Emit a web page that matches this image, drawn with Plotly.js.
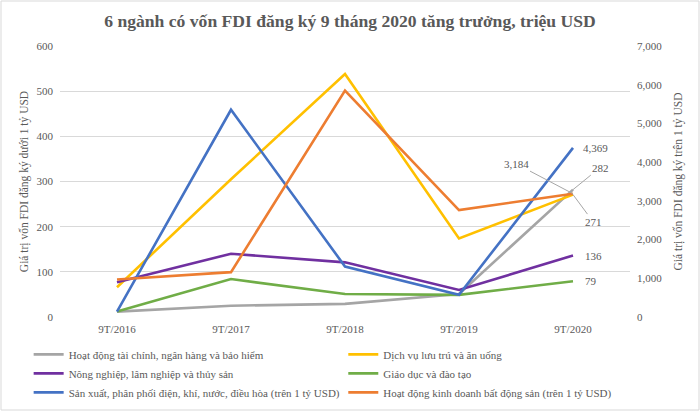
<!DOCTYPE html>
<html>
<head>
<meta charset="utf-8">
<script src="https://cdn.plot.ly/plotly-3.0.1.min.js"></script>
<style>
  html, body { margin: 0; padding: 0; background: #fff; }
  #chart { width: 700px; height: 411px; }
</style>
</head>
<body>
<div id="chart"></div>
<script>
const years = ['9T/2016', '9T/2017', '9T/2018', '9T/2019', '9T/2020'];

// dưới 1 tỷ USD (trục trái)
const taiChinh = [12, 25, 29, 51, 282];
const luuTru = [66, 305, 538, 174, 271];
const nongNghiep = [77, 140, 121, 60, 136];
const giaoDuc = [12, 84, 51, 49, 79];

// trên 1 tỷ USD (trục phải)
const sanXuatDien = [140, 5353, 1304, 575, 4369];
const batDongSan = [970, 1158, 5850, 2762, 3184];

const names = [
  'Hoạt động tài chính, ngân hàng và bảo hiểm',
  'Dịch vụ lưu trú và ăn uống',
  'Nông nghiệp, lâm nghiệp và thủy sản',
  'Giáo dục và đào tạo',
  'Sản xuất, phân phối điện, khí, nước, điều hòa (trên 1 tỷ USD)',
  'Hoạt động kinh doanh bất động sản (trên 1 tỷ USD)',
];

const colors = ['#a5a5a5', '#ffc000', '#7030a0', '#70ad47', '#4472c4', '#ed7d31'];
const textColor = '#595959';
const serif = 'Liberation Serif, Times New Roman, serif';

const series = [taiChinh, luuTru, nongNghiep, giaoDuc, sanXuatDien, batDongSan];
const axes = ['y', 'y', 'y', 'y', 'y2', 'y2'];
// hai cột chú thích như bản gốc
const legends = ['legend', 'legend2', 'legend', 'legend2', 'legend', 'legend2'];

const traces = series.map((vals, i) => ({
  x: years,
  y: vals,
  name: names[i],
  yaxis: axes[i],
  legend: legends[i],
  mode: 'lines',
  line: { color: colors[i], width: 2.6 },
  hoverinfo: 'x+y+name',
}));

const last = years.length - 1;
const fmt = (v) => v.toLocaleString('en-US');

const leader = { showarrow: true, arrowhead: 0, arrowwidth: 1, arrowcolor: '#a6a6a6' };
const annotations = [
  { x: years[last], y: sanXuatDien[last], yref: 'y2', text: fmt(sanXuatDien[last]),
    showarrow: false, xanchor: 'left', xshift: 8 },
  Object.assign({ x: years[last], y: taiChinh[last], yref: 'y', text: fmt(taiChinh[last]),
    ax: 27, ay: -22 }, leader),
  Object.assign({ x: years[last], y: luuTru[last], yref: 'y', text: fmt(luuTru[last]),
    ax: 20, ay: 27 }, leader),
  Object.assign({ x: years[last], y: batDongSan[last], yref: 'y2', text: fmt(batDongSan[last]),
    ax: -57, ay: -30 }, leader),
  { x: years[last], y: nongNghiep[last], yref: 'y', text: fmt(nongNghiep[last]),
    showarrow: false, xanchor: 'left', xshift: 10 },
  { x: years[last], y: giaoDuc[last], yref: 'y', text: fmt(giaoDuc[last]),
    showarrow: false, xanchor: 'left', xshift: 10 },
].map((a) => Object.assign({ xref: 'x', font: { family: serif, size: 11, color: textColor } }, a));

const tickFont = { family: serif, size: 11, color: textColor };
const legendFont = { family: serif, size: 11, color: textColor };

const layout = {
  width: 700,
  height: 411,
  margin: { l: 60, r: 70, t: 46, b: 94 },
  paper_bgcolor: '#fff',
  plot_bgcolor: '#fff',
  font: { family: serif, color: textColor },
  title: {
    text: '<b>6 ngành có vốn FDI đăng ký 9 tháng 2020 tăng trưởng, triệu USD</b>',
    font: { family: serif, size: 17.6, color: textColor },
    x: 0.5, xanchor: 'center', y: 0.965, yanchor: 'top',
  },
  xaxis: {
    type: 'category',
    range: [-0.5, years.length - 0.5],
    showgrid: false,
    zeroline: false,
    showline: false,
    ticks: '',
    ticklabelstandoff: 4,
    tickfont: tickFont,
  },
  yaxis: {
    range: [0, 600],
    dtick: 100,
    gridcolor: '#d9d9d9',
    gridwidth: 1,
    zeroline: false,
    showline: false,
    ticks: '',
    ticklabelstandoff: 6,
    tickfont: tickFont,
    title: { text: 'Giá trị vốn FDI đăng ký dưới 1 tỷ USD', font: { family: serif, size: 11.5, color: textColor }, standoff: 5 },
  },
  yaxis2: {
    range: [0, 7000],
    dtick: 1000,
    tickformat: ',',
    overlaying: 'y',
    side: 'right',
    showgrid: false,
    zeroline: false,
    showline: false,
    ticks: '',
    ticklabelstandoff: 6,
    tickfont: tickFont,
    title: { text: 'Giá trị vốn FDI đăng ký trên 1 tỷ USD', font: { family: serif, size: 11.5, color: textColor }, standoff: 12 },
  },
  legend: {
    x: -0.055, xanchor: 'left',
    yref: 'container', y: 0.01, yanchor: 'bottom',
    itemwidth: 30,
    tracegroupgap: 0,
    font: legendFont,
    bgcolor: 'rgba(0,0,0,0)',
  },
  legend2: {
    x: 0.497, xanchor: 'left',
    yref: 'container', y: 0.01, yanchor: 'bottom',
    itemwidth: 30,
    tracegroupgap: 0,
    font: legendFont,
    bgcolor: 'rgba(0,0,0,0)',
  },
  annotations: annotations,
  shapes: [{
    type: 'rect', xref: 'paper', yref: 'paper',
    x0: -59 / 570, x1: 639 / 570, y0: -93 / 271, y1: 316 / 271,
    line: { color: '#d9d9d9', width: 1 }, fillcolor: 'rgba(0,0,0,0)', layer: 'below',
  }],
  showlegend: true,
};

Plotly.newPlot('chart', traces, layout, { displayModeBar: false, responsive: false });
</script>
</body>
</html>
